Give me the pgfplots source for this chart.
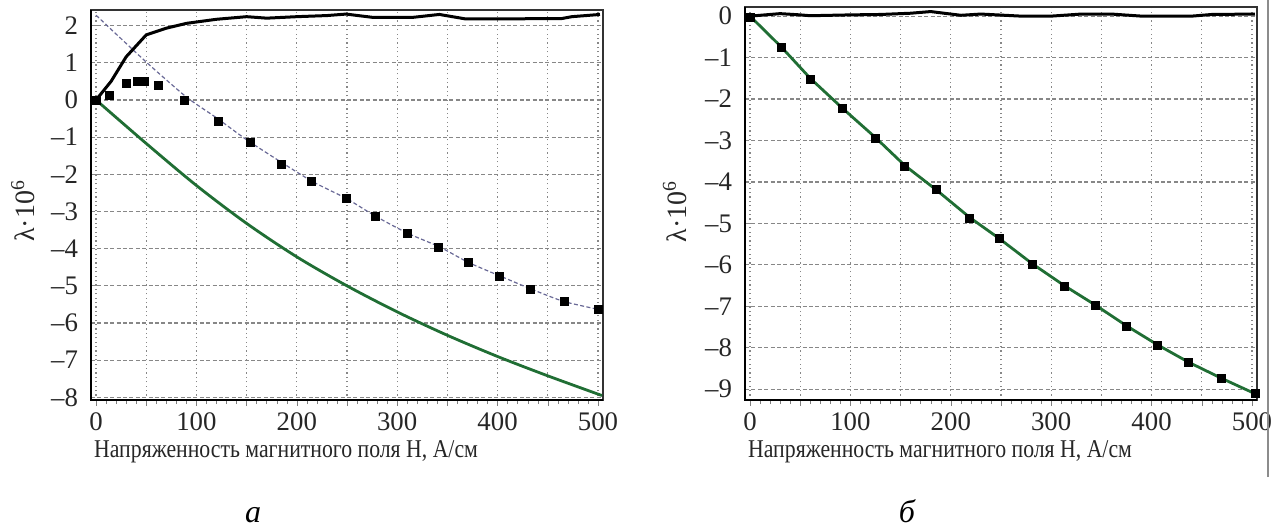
\documentclass[border=0pt]{standalone}
\usepackage{fontspec}
\setmainfont{Liberation Serif}
\newfontfamily\condserif{Liberation Serif}[FakeStretch=0.85]
\usepackage{pgfplots}
\pgfplotsset{compat=1.18}
\definecolor{fitgreen}{RGB}{32,110,52}
\definecolor{fitline}{RGB}{105,105,150}
\definecolor{gridgray}{RGB}{135,135,135}

\newcommand\tickfont{\fontsize{13.4}{15}\selectfont}
\newcommand\labfont{\condserif\fontsize{12.8}{15}\selectfont}
\newcommand\ylabfont{\fontsize{14}{16}\selectfont}

\pgfplotsset{
  magplot/.style={
    scale only axis,
    width=256pt,
    xmin=-5, xmax=505,
    xtick={0,50,...,500},
    xticklabels={0,,100,,200,,300,,400,,500},
    minor x tick num=4,
    tick align=outside,
    xtick pos=bottom,
    ytick pos=left,
    major tick length=3pt,
    minor tick length=2pt,
    ytick style={draw=none},
    grid=major,
    major x grid style={gridgray, line width=0.6pt, dash pattern=on 0.6pt off 1.6pt},
    major y grid style={gridgray, line width=0.6pt, dash pattern=on 2pt off 1.2pt},
    axis line style={line width=0.9pt, black!80},
    /pgf/number format/assume math mode=true,
    xticklabel style={font=\tickfont, text=black!85},
    yticklabel style={font=\tickfont, text=black!85},
    xlabel style={font=\labfont, text=black!85, at={(axis description cs:0.381,-0.133)}, anchor=center},
    ylabel style={font=\ylabfont, text=black!85},
    xlabel={Напряженность магнитного поля Н, А/см},
    ylabel={λ·10\textsuperscript{6}},
    clip=false,
  },
  sq/.style={only marks, mark=square*, mark size=2pt, black},
}

\begin{document}
\begin{tikzpicture}
\path[use as bounding box] (0pt,0pt) rectangle (635.5pt,263pt);

% ---- left panel (a)
\begin{axis}[magplot,
  at={(45.5pt,63pt)}, anchor=south west,
  height=195pt,
  ymin=-8.07, ymax=2.42,
  ytick={-8,-7,...,2},
  yticklabels={–8,–7,–6,–5,–4,–3,–2,–1,0,1,2},
  ylabel style={at={(axis description cs:-0.133,0.485)}, anchor=center},
]
\addplot[fitline, smooth, tension=0.4, line width=0.6pt, dash pattern=on 2pt off 1.2pt] coordinates {
  (0,2.28) (50,1.02) (90,0.08) (120,-0.48) (150,-1.07) (186,-1.7)
  (216,-2.2) (250,-2.66) (278,-3.12) (310,-3.58) (342,-3.95) (371,-4.37)
  (402,-4.73) (433,-5.08) (466,-5.42) (505,-5.66)
};
\addplot[fitgreen, smooth, tension=0.5, line width=1.4pt] coordinates {
  (0,0) (50,-1.17) (100,-2.30) (150,-3.32) (200,-4.22) (250,-5.0)
  (300,-5.70) (350,-6.33) (400,-6.90) (450,-7.42) (504,-7.95)
};
\addplot[black, line width=1.5pt] coordinates {
  (0,0) (15,0.5) (30,1.16) (50,1.75) (70,1.93) (90,2.06) (120,2.17) (150,2.24)
  (170,2.2) (200,2.24) (230,2.27) (249,2.31) (276,2.22) (315,2.22) (342,2.3)
  (368,2.18) (400,2.18) (464,2.19) (474,2.24) (502,2.3)
};
\addplot[sq] coordinates {
  (0,0) (13,0.13) (30,0.44) (41,0.49) (48,0.51) (62,0.40) (88.5,0)
  (121.6,-0.58) (153.4,-1.15) (185,-1.73) (215,-2.2) (249,-2.65) (278,-3.13)
  (310,-3.6) (341,-3.96) (371,-4.38) (402,-4.74) (433,-5.1) (466.5,-5.43)
  (500.5,-5.64)
};
\draw[black, line width=1.4pt] (rel axis cs:0,1) -- (rel axis cs:0,0) -- (rel axis cs:1,0);
\end{axis}

% ---- right panel (b)
\begin{axis}[magplot,
  at={(372.5pt,63pt)}, anchor=south west,
  height=196.5pt,
  ymin=-9.26, ymax=0.22,
  ytick={-9,-8,...,0},
  yticklabels={–9,–8,–7,–6,–5,–4,–3,–2,–1,0},
  ylabel style={at={(axis description cs:-0.137,0.48)}, anchor=center},
]
\addplot[fitgreen, line width=1.4pt] coordinates {
  (0,0) (31,-0.74) (60,-1.5) (92,-2.22) (125,-2.93) (154,-3.6) (186,-4.2)
  (219,-4.86) (248,-5.36) (281,-5.97) (313,-6.5) (344,-6.97) (375,-7.47)
  (406,-7.93) (437,-8.35) (470,-8.74) (505,-9.13)
};
\addplot[black, line width=1.5pt] coordinates {
  (0,0) (10,0.02) (30,0.06) (50,0.03) (60,0.01) (100,0.03) (130,0.04)
  (160,0.07) (180,0.11) (190,0.08) (210,0.02) (230,0.05) (270,0.0) (300,0.0)
  (330,0.05) (360,0.05) (390,0.0) (440,0.0) (460,0.04) (503,0.05)
};
\addplot[sq] coordinates {
  (0,-0.03) (31,-0.76) (60,-1.52) (92,-2.23) (125,-2.95) (154,-3.62)
  (186,-4.17) (219,-4.87) (248,-5.36) (281,-5.99) (313,-6.51) (344,-6.97)
  (375,-7.48) (406,-7.94) (437,-8.35) (470,-8.73) (503,-9.10)
};
\draw[black, line width=1.4pt] (rel axis cs:0,1) -- (rel axis cs:0,0) -- (rel axis cs:1,0);
\end{axis}

\draw[black!45, line width=0.6pt] (634pt,24.5pt) -- (634pt,263pt);
\node[font=\fontsize{16}{18}\selectfont\itshape, anchor=base] at (126.5pt,2pt) {а};
\node[font=\fontsize{16}{18}\selectfont\itshape, anchor=base] at (453.5pt,2pt) {б};
\end{tikzpicture}
\end{document}
